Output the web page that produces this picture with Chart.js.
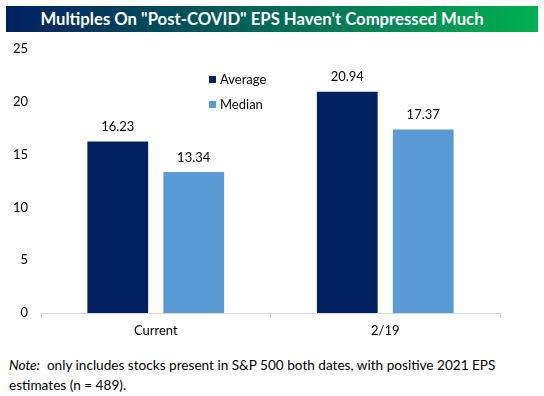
<!DOCTYPE html>
<html lang="en">
<head>
<meta charset="UTF-8">
<title>Multiples On "Post-COVID" EPS</title>
<script src="https://cdn.jsdelivr.net/npm/chart.js"></script>
<style>
    body { margin: 0; width: 544px; height: 396px; background: #fff; font-family: Lato, sans-serif; position: relative; overflow: hidden; }
    .title { position: absolute; left: 6px; top: 6px; width: 512px; padding-right: 20px; height: 26px; line-height: 26px;
             background: linear-gradient(to right, #002060, #00b050); color: #fff; font-weight: bold;
             font-size: 16.7px; text-align: center; }
    .wrap { position: absolute; left: 0; top: 28px; width: 544px; height: 318px; }
    .note { position: absolute; left: 9px; top: 355px; font-size: 13.6px; line-height: 20px; color: #000; }
</style>
</head>
<body>
<div class="title">Multiples On "Post-COVID" EPS Haven't Compressed Much</div>
<div class="wrap"><canvas id="chart"></canvas></div>
<div class="note"><i>Note:</i>&nbsp; only includes stocks present in S&amp;P 500 both dates, with positive 2021 EPS<br>estimates (n = 489).</div>

<script>
    const categories = ["Current", "2/19"];
    const average = [16.23, 20.94];
    const median = [13.34, 17.37];
    const yTicks = [0, 5, 10, 15, 20, 25];

    // values above the bars
    const valueLabels = {
        id: 'valueLabels',
        afterDatasetsDraw(chart) {
            const ctx = chart.ctx;
            ctx.save();
            ctx.font = '13px Lato';
            ctx.fillStyle = '#000';
            ctx.textAlign = 'center';
            ctx.textBaseline = 'bottom';
            chart.data.datasets.forEach((ds, i) => {
                chart.getDatasetMeta(i).data.forEach((bar, j) => {
                    ctx.fillText(ds.data[j].toFixed(2), bar.x, bar.y - 8);
                });
            });
            ctx.restore();
        }
    };

    // legend inside the plot
    const innerLegend = {
        id: 'innerLegend',
        afterDraw(chart) {
            const ctx = chart.ctx;
            ctx.save();
            ctx.font = '13px Lato';
            ctx.textBaseline = 'middle';
            chart.data.datasets.forEach((ds, i) => {
                const y = 51.5 + i * 25;
                ctx.fillStyle = ds.backgroundColor;
                ctx.fillRect(209, y - 3.5, 7, 7);
                ctx.fillStyle = '#000';
                ctx.fillText(ds.label, 220, y);
            });
            ctx.restore();
        }
    };

    new Chart(document.getElementById('chart'), {
        type: 'bar',
        data: {
            labels: categories,
            datasets: [
                { label: 'Average', data: average, backgroundColor: '#002060' },
                { label: 'Median', data: median, backgroundColor: '#5b9bd5' }
            ]
        },
        options: {
            responsive: true,
            maintainAspectRatio: false,
            animation: false,
            categoryPercentage: 0.662,
            barPercentage: 0.8,
            layout: { padding: { top: 2, right: 44, left: 0, bottom: 0 } },
            plugins: { legend: { display: false }, tooltip: { enabled: false } },
            scales: {
                x: {
                    grid: { display: true, drawOnChartArea: false, drawTicks: true, tickLength: 5, color: '#d9d9d9' },
                    border: { display: true, color: '#d9d9d9' },
                    ticks: { color: '#000', font: { family: 'Lato', size: 13 }, padding: 5 },
                    afterFit(scale) { scale.height = 33; }
                },
                y: {
                    min: 0, max: 25,
                    grid: { display: false, drawTicks: false },
                    border: { display: false },
                    afterBuildTicks(scale) { scale.ticks = yTicks.map(v => ({ value: v })); },
                    ticks: { color: '#000', font: { family: 'Lato', size: 13 }, padding: 13 },
                    afterFit(scale) { scale.width = 41; }
                }
            }
        },
        plugins: [valueLabels, innerLegend]
    });
</script>
</body>
</html>
